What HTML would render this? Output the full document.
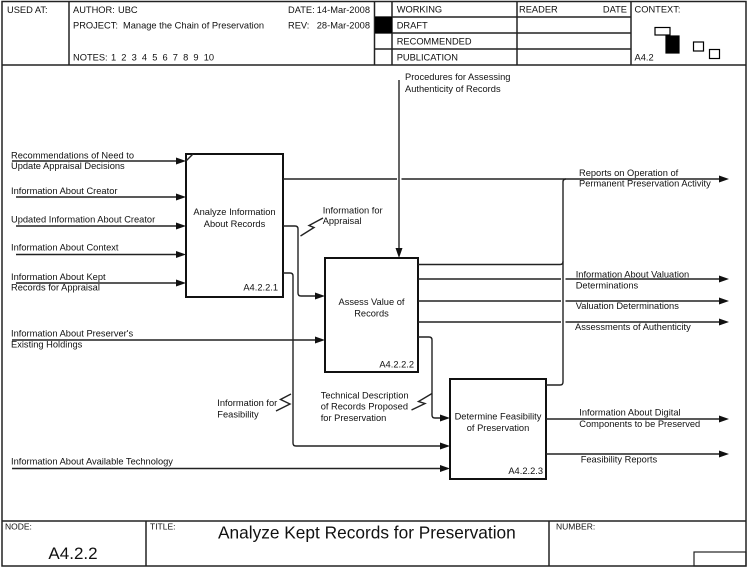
<!DOCTYPE html>
<html><head><meta charset="utf-8"><style>
html,body{margin:0;padding:0;background:#fff;}
svg{display:block;}
text{font-family:"Liberation Sans",Arial,sans-serif;fill:#111;}
</style></head><body>
<svg width="750" height="568" viewBox="0 0 750 568" xmlns="http://www.w3.org/2000/svg">
<rect x="0" y="0" width="750" height="568" fill="#fff"/>
<!-- frame -->
<g stroke="#222" stroke-width="1.5" fill="none">
<rect x="2" y="1.5" width="744" height="564.5"/>
<line x1="2" y1="65" x2="746" y2="65"/>
<line x1="2" y1="521" x2="746" y2="521"/>
<line x1="69" y1="1.5" x2="69" y2="65"/>
<line x1="374.5" y1="1.5" x2="374.5" y2="65"/>
<line x1="392" y1="1.5" x2="392" y2="65"/>
<line x1="517" y1="1.5" x2="517" y2="65"/>
<line x1="631" y1="1.5" x2="631" y2="65"/>
<line x1="374.5" y1="17" x2="631" y2="17"/>
<line x1="374.5" y1="33" x2="631" y2="33"/>
<line x1="374.5" y1="49" x2="631" y2="49"/>
<line x1="146" y1="521" x2="146" y2="566"/>
<line x1="549" y1="521" x2="549" y2="566"/>
<rect x="694" y="552" width="52" height="14" stroke-width="1.2"/>
</g>
<rect x="375" y="17" width="17" height="16" fill="#000"/>
<!-- context icons -->
<g stroke="#000" stroke-width="1.2">
<rect x="655" y="27.5" width="15" height="7.5" fill="#fff"/>
<rect x="666" y="36" width="13" height="17" fill="#000"/>
<rect x="693.5" y="42" width="10" height="9" fill="#fff"/>
<rect x="709.5" y="49.5" width="10" height="9" fill="#fff"/>
</g>
<!-- header text -->
<g font-size="9.3">
<text x="7" y="13">USED AT:</text>
<text x="73" y="13">AUTHOR:</text>
<text x="118" y="13">UBC</text>
<text x="288" y="13">DATE:</text>
<text x="370" y="13" text-anchor="end">14-Mar-2008</text>
<text x="73" y="28.5">PROJECT:</text>
<text x="123" y="28.5">Manage the Chain of Preservation</text>
<text x="288" y="28.5">REV:</text>
<text x="370" y="28.5" text-anchor="end">28-Mar-2008</text>
<text x="73" y="60.5">NOTES:</text>
<text x="111" y="60.5">1</text>
<text x="121.3" y="60.5">2</text>
<text x="131.6" y="60.5">3</text>
<text x="141.9" y="60.5">4</text>
<text x="152.2" y="60.5">5</text>
<text x="162.5" y="60.5">6</text>
<text x="172.8" y="60.5">7</text>
<text x="183.1" y="60.5">8</text>
<text x="193.4" y="60.5">9</text>
<text x="203.7" y="60.5">10</text>
<text x="396.7" y="12.5">WORKING</text>
<text x="396.7" y="28.5">DRAFT</text>
<text x="396.7" y="44.5">RECOMMENDED</text>
<text x="396.7" y="60.5">PUBLICATION</text>
<text x="519" y="12.5">READER</text>
<text x="627" y="12.5" text-anchor="end">DATE</text>
<text x="634.5" y="12.5">CONTEXT:</text>
<text x="634.5" y="60.5">A4.2</text>
</g>
<!-- footer text -->
<g>
<text x="5" y="529.5" font-size="8.5">NODE:</text>
<text x="150" y="529.5" font-size="8.5">TITLE:</text>
<text x="556" y="529.5" font-size="8.5">NUMBER:</text>
<text x="73" y="559" font-size="17" text-anchor="middle">A4.2.2</text>
<text x="218" y="538.5" font-size="17.3">Analyze Kept Records for Preservation</text>
</g>
<!-- boxes -->
<g stroke="#111" stroke-width="2" fill="#fff">
<rect x="186" y="154" width="97" height="143"/>
<rect x="325" y="258" width="93" height="114"/>
<rect x="450" y="379" width="96" height="100"/>
</g>
<!-- connectors -->
<g stroke="#222" stroke-width="1.4" fill="none">
<line x1="12" y1="161" x2="178" y2="161"/>
<line x1="186" y1="161" x2="193" y2="154"/>
<line x1="16" y1="197" x2="178" y2="197"/>
<line x1="16" y1="226" x2="178" y2="226"/>
<line x1="16" y1="254.5" x2="178" y2="254.5"/>
<line x1="16" y1="283" x2="178" y2="283"/>
<line x1="12" y1="340" x2="317" y2="340"/>
<line x1="12" y1="468.5" x2="442" y2="468.5"/>
<line x1="399" y1="80" x2="399" y2="249"/>
<line x1="283" y1="179" x2="397" y2="179"/>
<line x1="401.5" y1="179" x2="721" y2="179"/>
<path d="M283,226 H295 Q298,226 298,229 V293 Q298,296 301,296 H317"/>
<path d="M283,273 H290 Q293,273 293,276 V443 Q293,446 296,446 H442"/>
<path d="M418,264.5 H560 Q563,264.5 563,261.5"/>
<path d="M546,385 H560 Q563,385 563,382 V182 Q563,179 566,179"/>
<line x1="418" y1="279" x2="561" y2="279"/>
<line x1="565.5" y1="279" x2="721" y2="279"/>
<line x1="418" y1="301" x2="561" y2="301"/>
<line x1="565.5" y1="301" x2="721" y2="301"/>
<line x1="418" y1="322" x2="561" y2="322"/>
<line x1="565.5" y1="322" x2="721" y2="322"/>
<path d="M418,337 H429 Q432,337 432,340 V415 Q432,418 435,418 H442"/>
<line x1="546" y1="419" x2="721" y2="419"/>
<line x1="546" y1="454" x2="721" y2="454"/>
<polyline points="300.5,236 314,227.5 309,225.5 323,218"/>
<polyline points="276,411 290,404 280.5,399.5 291,394"/>
<polyline points="411.5,410 425,403.5 418.5,401.5 432,393.5"/>
</g>
<!-- arrowheads -->
<g fill="#111">
<polygon points="186,161 176,157.5 176,164.5"/>
<polygon points="186,197 176,193.5 176,200.5"/>
<polygon points="186,226 176,222.5 176,229.5"/>
<polygon points="186,254.5 176,251 176,258"/>
<polygon points="186,283 176,279.5 176,286.5"/>
<polygon points="325,296 315,292.5 315,299.5"/>
<polygon points="325,340 315,336.5 315,343.5"/>
<polygon points="399,258 395.5,248 402.5,248"/>
<polygon points="450,418 440,414.5 440,421.5"/>
<polygon points="450,446 440,442.5 440,449.5"/>
<polygon points="450,468.5 440,465 440,472"/>
<polygon points="729,179 719,175.5 719,182.5"/>
<polygon points="729,279 719,275.5 719,282.5"/>
<polygon points="729,301 719,297.5 719,304.5"/>
<polygon points="729,322 719,318.5 719,325.5"/>
<polygon points="729,419 719,415.5 719,422.5"/>
<polygon points="729,454 719,450.5 719,457.5"/>
</g>
<!-- labels -->
<g font-size="9.3">
<text x="11" y="158.4">Recommendations of Need to</text>
<text x="11" y="169">Update Appraisal Decisions</text>
<text x="11" y="194">Information About Creator</text>
<text x="11" y="222.5">Updated Information About Creator</text>
<text x="11" y="250.5">Information About Context</text>
<text x="11" y="280">Information About Kept</text>
<text x="11" y="290.7">Records for Appraisal</text>
<text x="11" y="336.5">Information About Preserver's</text>
<text x="11" y="347.5">Existing Holdings</text>
<text x="11" y="464.5">Information About Available Technology</text>

<text x="234.5" y="215" text-anchor="middle">Analyze Information</text>
<text x="234.5" y="227" text-anchor="middle">About Records</text>
<text x="278" y="290.5" text-anchor="end">A4.2.2.1</text>
<text x="371.5" y="305" text-anchor="middle">Assess Value of</text>
<text x="371.5" y="316.3" text-anchor="middle">Records</text>
<text x="414" y="367.5" text-anchor="end">A4.2.2.2</text>
<text x="498" y="419.5" text-anchor="middle">Determine Feasibility</text>
<text x="498" y="430.8" text-anchor="middle">of Preservation</text>
<text x="543" y="474" text-anchor="end">A4.2.2.3</text>

<text x="405" y="80">Procedures for Assessing</text>
<text x="405" y="92">Authenticity of Records</text>
<text x="322.7" y="213.4">Information for</text>
<text x="322.7" y="224">Appraisal</text>
<text x="579" y="176">Reports on Operation of</text>
<text x="579" y="186.7">Permanent Preservation Activity</text>
<text x="575.7" y="277.4">Information About Valuation</text>
<text x="575.7" y="288.4">Determinations</text>
<text x="575.7" y="309">Valuation Determinations</text>
<text x="575" y="330">Assessments of Authenticity</text>
<text x="320.7" y="398.4">Technical Description</text>
<text x="320.7" y="409.7">of Records Proposed</text>
<text x="320.7" y="421">for Preservation</text>
<text x="217.3" y="406">Information for</text>
<text x="217.3" y="417.4">Feasibility</text>
<text x="579.3" y="415.4">Information About Digital</text>
<text x="579.3" y="427">Components to be Preserved</text>
<text x="580.7" y="462.7">Feasibility Reports</text>
</g>
</svg>
</body></html>
